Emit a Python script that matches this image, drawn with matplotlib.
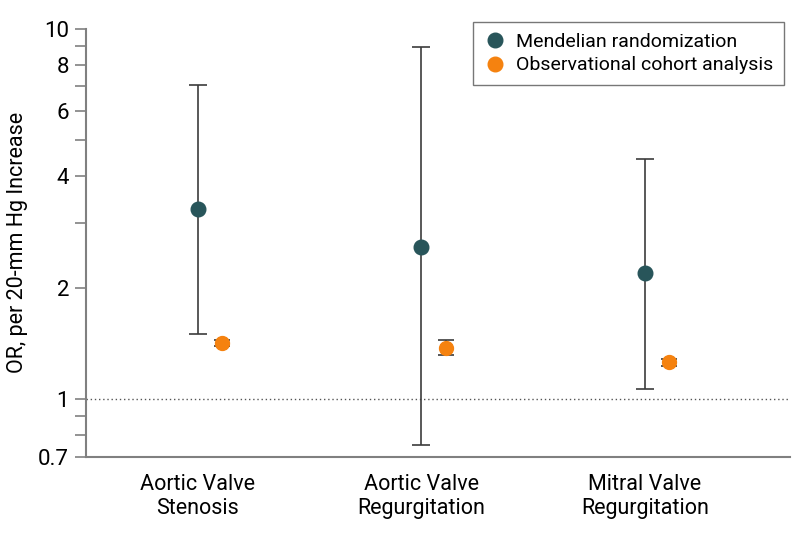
import matplotlib.pyplot as plt
from matplotlib.lines import Line2D
from matplotlib.ticker import FixedLocator, NullFormatter

plt.rcParams['font.family'] = ['Roboto', 'DejaVu Sans']

categories = ["Aortic Valve\nStenosis", "Aortic Valve\nRegurgitation", "Mitral Valve\nRegurgitation"]

mr_or = [3.27, 2.58, 2.19]
mr_lo = [1.50, 0.755, 1.07]
mr_hi = [7.06, 8.94, 4.45]

obs_or = [1.42, 1.38, 1.26]
obs_lo = [1.39, 1.32, 1.23]
obs_hi = [1.45, 1.45, 1.29]

MR_COLOR = "#28555a"
OBS_COLOR = "#f5820f"
ERR_COLOR = "#3c3c3c"

fig = plt.figure(figsize=(7.94, 5.35), dpi=100)
ax = fig.add_axes([0.108, 0.146, 0.887, 0.80])

x = list(range(len(categories)))
x_obs = [v + 0.11 for v in x]

ax.errorbar(x, mr_or,
            yerr=[[o - l for o, l in zip(mr_or, mr_lo)], [h - o for o, h in zip(mr_or, mr_hi)]],
            fmt='o', color=MR_COLOR, ecolor=ERR_COLOR, elinewidth=1.2, capsize=6.5, capthick=1.2,
            markersize=10.5, zorder=3)
ax.errorbar(x_obs, obs_or,
            yerr=[[o - l for o, l in zip(obs_or, obs_lo)], [h - o for o, h in zip(obs_or, obs_hi)]],
            fmt='o', color=OBS_COLOR, ecolor=ERR_COLOR, elinewidth=1.2, capsize=6, capthick=1.2,
            markersize=10, zorder=3)

ax.axhline(1, color='#555555', linestyle=(0, (1, 2)), linewidth=1, zorder=1)

ax.set_yscale('log')
ax.set_ylim(0.7, 10)
ax.set_xlim(-0.5, 2.65)
ax.yaxis.set_major_locator(FixedLocator([0.7, 1, 2, 4, 6, 8, 10]))
ax.set_yticklabels(["0.7", "1", "2", "4", "6", "8", "10"])
ax.yaxis.set_minor_locator(FixedLocator([0.8, 0.9, 3, 5, 7, 9]))
ax.yaxis.set_minor_formatter(NullFormatter())
ax.tick_params(axis='y', which='both', direction='out', length=8, width=1.2, color='#808080',
               labelsize=16, pad=4)
ax.set_xticks(x)
ax.set_xticklabels(categories, fontsize=15.5, linespacing=1.2)
ax.tick_params(axis='x', length=0, pad=12)
ax.set_ylabel("OR, per 20-mm Hg Increase", fontsize=15.5, labelpad=7)

for s in ['top', 'right']:
    ax.spines[s].set_visible(False)
for s in ['left', 'bottom']:
    ax.spines[s].set_color('#808080')
    ax.spines[s].set_linewidth(1.5)

handles = [
    Line2D([], [], linestyle='none', marker='o', markersize=10.5, color=MR_COLOR),
    Line2D([], [], linestyle='none', marker='o', markersize=10.5, color=OBS_COLOR),
]
leg = ax.legend(handles, ["Mendelian randomization", "Observational cohort analysis"],
                loc='upper right', fontsize=14, frameon=True, fancybox=False,
                edgecolor='#555555', handlelength=1.2, handletextpad=0.5, borderpad=0.55,
                borderaxespad=0.3, labelspacing=0.3, bbox_to_anchor=(1.0, 1.03))
leg.get_frame().set_linewidth(1)

fig.savefig("out.png", dpi=100)
